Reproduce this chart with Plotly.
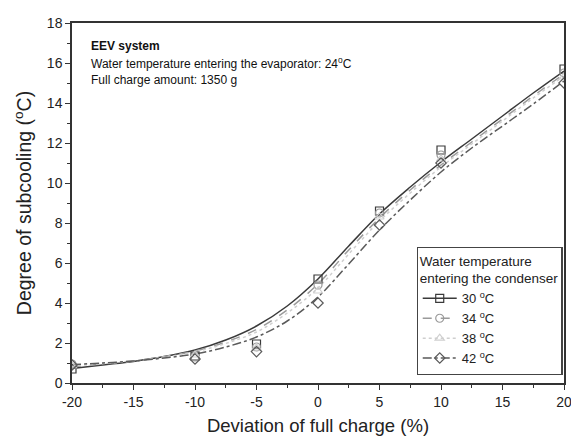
import plotly.graph_objects as go

# Measured points
x_pts = [-20, -10, -5, 0, 5, 10, 20]
y30_pts = [0.7, 1.35, 1.95, 5.2, 8.6, 11.65, 15.7]
y34_pts = [0.95, 1.3, 1.8, 4.9, 8.5, 11.4, 15.5]
y38_pts = [0.85, 1.4, 1.75, 4.6, 8.3, 11.2, 15.3]
y42_pts = [0.9, 1.2, 1.57, 4.0, 7.9, 11.0, 15.0]

# Fitted curves
x_fit = [-20, -17.5, -15, -12.5, -10, -7.5, -5, -2.5, 0, 2.5, 5, 7.5, 10, 12.5, 15, 17.5, 20]
y30_fit = [0.72, 0.9, 1.08, 1.32, 1.65, 2.15, 2.85, 3.85, 5.2, 6.85, 8.45, 9.8, 11.05, 12.2, 13.35, 14.5, 15.6]
y34_fit = [0.8, 0.95, 1.1, 1.32, 1.6, 2.05, 2.68, 3.65, 4.95, 6.65, 8.25, 9.65, 10.9, 12.05, 13.2, 14.35, 15.45]
y38_fit = [0.85, 0.97, 1.1, 1.3, 1.55, 1.98, 2.55, 3.5, 4.75, 6.45, 8.1, 9.5, 10.8, 11.95, 13.1, 14.25, 15.35]
y42_fit = [0.92, 1.0, 1.1, 1.25, 1.45, 1.8, 2.3, 3.1, 4.3, 5.95, 7.65, 9.15, 10.55, 11.75, 12.85, 13.95, 15.1]

x_ticks = [-20, -15, -10, -5, 0, 5, 10, 15, 20]
x_ticktext = ["-20", "-15", "-10", "-5", "0", "5", "10", "15", "20"]
y_ticks = [0, 2, 4, 6, 8, 10, 12, 14, 16, 18]

labels = ["30 <sup>o</sup>C", "34 <sup>o</sup>C", "38 <sup>o</sup>C", "42 <sup>o</sup>C"]
colors = ["#3a3a3a", "#9a9a9a", "#cfcfcf", "#5a5a5a"]
dashes = ["solid", "dash", "dot", "dashdot"]
symbols = ["square-open", "circle-open", "triangle-up-open", "diamond-open"]

pts = [y30_pts, y34_pts, y38_pts, y42_pts]
fits = [y30_fit, y34_fit, y38_fit, y42_fit]

FONT = "Liberation Sans, Arial, sans-serif"

fig = go.Figure()
for i in range(4):
    fig.add_trace(go.Scatter(x=x_fit, y=fits[i], mode="lines",
                             line=dict(color=colors[i], width=1.5, dash=dashes[i], shape="spline"),
                             showlegend=False, hoverinfo="skip"))
for i in range(4):
    fig.add_trace(go.Scatter(x=x_pts, y=pts[i], mode="markers",
                             marker=dict(symbol=symbols[i], size=8, color=colors[i], line=dict(width=1.2, color=colors[i])),
                             showlegend=False))
for i in range(4):
    fig.add_trace(go.Scatter(x=[None], y=[None], mode="lines+markers", name=labels[i],
                             line=dict(color=colors[i], width=1.5, dash=dashes[i]),
                             marker=dict(symbol=symbols[i], size=8, color=colors[i], line=dict(width=1.2, color=colors[i]))))

axis_common = dict(showline=True, linecolor="#333", linewidth=1.5, mirror=True, ticks="outside",
                   ticklen=5, tickwidth=1.2, tickcolor="#333", showgrid=False, zeroline=False,
                   tickfont=dict(size=14, color="#222", family=FONT))

fig.update_xaxes(range=[-20, 20], tickmode="array", tickvals=x_ticks, ticktext=x_ticktext,
                 title=dict(text="Deviation of full charge (%)", font=dict(size=18.5, color="#222", family=FONT), standoff=11),
                 minor=dict(ticks="outside", ticklen=3, dtick=2.5, tickcolor="#333"), **axis_common)
fig.update_yaxes(range=[0, 18], tickmode="array", tickvals=y_ticks,
                 title=dict(text="Degree of subcooling (<sup>o</sup>C)", font=dict(size=19.5, color="#222", family=FONT), standoff=10),
                 minor=dict(ticks="outside", ticklen=3, dtick=1, tickcolor="#333"), **axis_common)

fig.add_annotation(xref="paper", yref="paper", x=0.035, y=0.9375, xanchor="left", yanchor="middle", showarrow=False, align="left",
                   text="<b>EEV system</b>", font=dict(family=FONT, size=12, color="#111"))
fig.add_annotation(xref="paper", yref="paper", x=0.035, y=0.918, xanchor="left", yanchor="top", showarrow=False, align="left",
                   text="Water temperature entering the evaporator: 24<sup>o</sup>C<br>Full charge amount: 1350 g",
                   font=dict(family=FONT, size=12, color="#111"))

# page body has an 8px default margin, so the figure is sized to fit the window
fig.update_layout(
    width=571, height=436,
    margin=dict(l=64, r=9, t=7, b=61),
    paper_bgcolor="white", plot_bgcolor="white",
    font=dict(family=FONT, color="#222"),
    legend=dict(x=0.997, y=0.022, xanchor="right", yanchor="bottom", bordercolor="#444", borderwidth=1.2,
                bgcolor="white", font=dict(size=13, family=FONT), tracegroupgap=0, itemwidth=34,
                title=dict(text="Water temperature<br>entering the condenser", font=dict(size=13.5, family=FONT))),
)

fig.write_html("out.html")
